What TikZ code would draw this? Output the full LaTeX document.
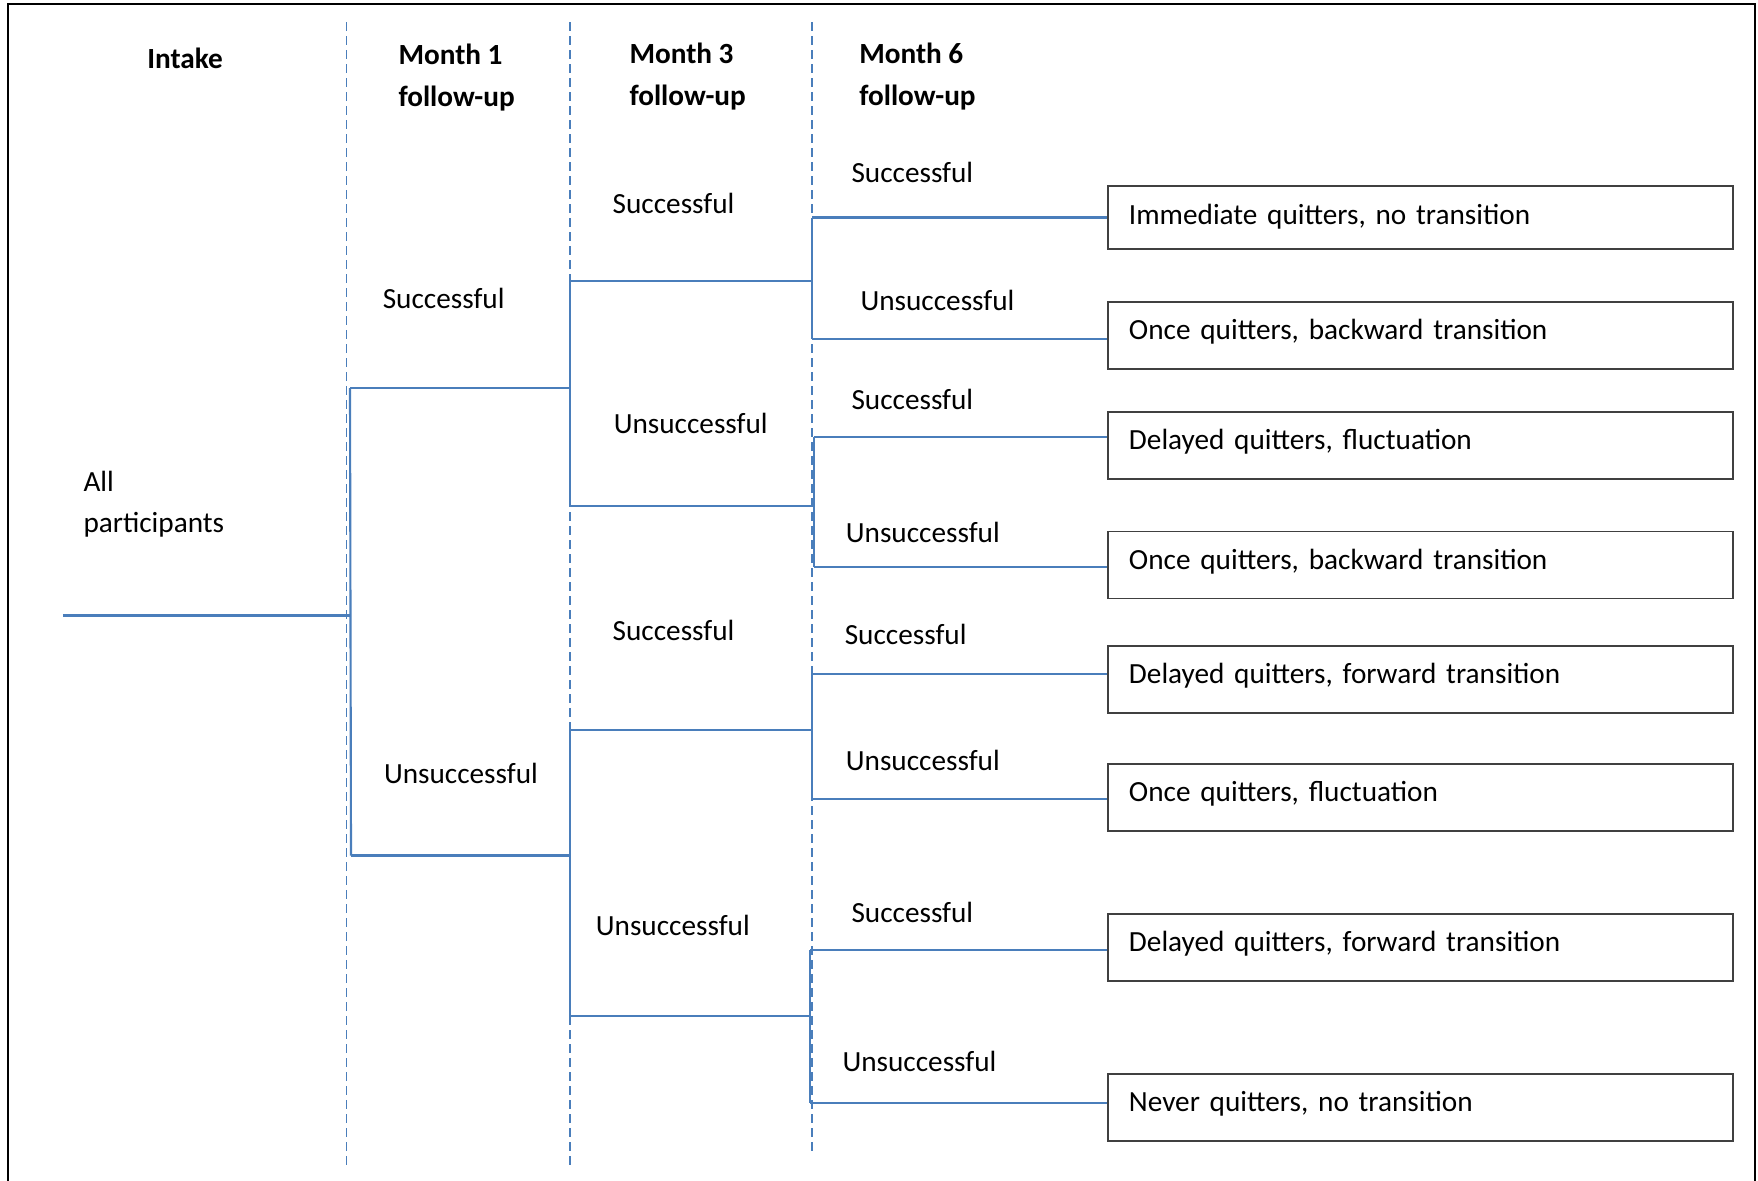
\documentclass[tikz,border=0pt]{standalone}
\usepackage{fontspec}
\setmainfont{Carlito}
\usepackage{tikz}
\usetikzlibrary{positioning}
\usetikzlibrary{calc}
\definecolor{treeblue}{HTML}{4A7EBB}
\definecolor{boxgray}{HTML}{404040}
\tikzset{
  lbl/.style = {
    anchor=west, inner sep = 0pt, align=left, font=\fontsize{11.7}{16.6}\selectfont }
}

\begin{document}
\begin{tikzpicture}[x=0.4pt,y=-0.4pt,
tree_style/.style={draw=treeblue,line width=0.85pt},
phase_style/.style={draw=treeblue,line width=0.75pt,dash pattern=on 3.4pt off 2.2pt},
box_style/.style={draw=boxgray,line width=0.7pt,minimum width=250pt,inner xsep=8.5pt,
  text width=233pt,text height=8.5pt,align=left,
  font=\fontsize{11.7}{16.6}\selectfont},
head_style/.style={lbl,font=\fontsize{11.7}{16.6}\selectfont\bfseries}]
\useasboundingbox (0,0) rectangle (1758,1180);
\draw[line width=1pt] (8,1190) |- (1755,4) -- (1755,1190);

% phase separators
\foreach \x/\y in {346.5/1166,570/1166,812/1155}{
 \draw[phase_style] (\x,22.4) -- (\x,\y);
}

% headers
\node[head_style,anchor=center] (intake) at (185,58.3) {Intake};
\node[head_style] (month1) at (398,77.5) {Month 1\\follow-up};
\node[head_style] (month3) at (629,76.4) {Month 3\\follow-up};
\node[head_style] (month6) at (858.8,76.4) {Month 6\\follow-up};
\node[lbl] (all) at (83,504) {All\\participants};

% outcome boxes
\foreach \n/\y/\h/\d/\t in {1/217.5/25.2pt/2.7pt/{Immediate quitters, no transition},
 2/335.3/26.8pt/5.3pt/{Once quitters, backward transition},
 3/445.2/26.8pt/5.3pt/{Delayed quitters, fluctuation},
 4/565.1/26.8pt/5.3pt/{Once quitters, backward transition},
 5/679.5/26.8pt/5.3pt/{Delayed quitters, forward transition},
 6/797.2/26.8pt/5.3pt/{Once quitters, fluctuation},
 7/947.5/26.8pt/5.3pt/{Delayed quitters, forward transition},
 8/1107.8/26.8pt/5.3pt/{Never quitters, no transition}}{
 \node[box_style,minimum height=\h,text depth=\d] (b\n) at (1420.2,\y) {\t};
}

% month 1
\coordinate (r0) at (62.8,615.5);
\coordinate (r1) at (350,615.5);
\coordinate (j1s) at (350,388);
\coordinate (j1u) at (351,855.5);
\coordinate (e1s) at (570,388);
\coordinate (e1u) at (570,855.5);
\draw[tree_style] (r0) -- (r1);
\draw[tree_style] (j1s) -- (j1u);
\draw[tree_style] (j1s) -- (e1s);
\draw[tree_style] (j1u) -- (e1u);
\node[lbl] (m1s) at (382.3,298.2) {Successful};
\node[lbl] (m1u) at (383.5,773.6) {Unsuccessful};

% month 3
\coordinate (j3a) at (570,281.4);
\coordinate (j3b) at (570,505.7);
\coordinate (j3c) at (570,730);
\coordinate (j3d) at (570,1015.8);
\draw[tree_style] (j3a) -- (j3b);
\draw[tree_style] (j3c) -- (j3d);
\foreach \c/\x in {a/812,b/813,c/812,d/810}{
 \draw[tree_style] (j3\c) -- (\x,0 |- j3\c);
}
\node[lbl] (m3a) at (612.2,203) {Successful};
\node[lbl] (m3b) at (613.3,423.8) {Unsuccessful};
\node[lbl] (m3c) at (612.2,630.1) {Successful};
\node[lbl] (m3d) at (595.4,925) {Unsuccessful};

% month 6
\foreach \n/\x/\y in {1/812/217.5,2/812/338.6,3/814/437.3,4/814/567.3,
 5/812/673.8,6/812/799.4,7/810/949.7,8/810/1103.3}{
 \coordinate (l\n) at (\x,\y);
 \draw[tree_style] (l\n) -- (l\n -| b\n.west);
}
\foreach \a/\b in {1/2,3/4,5/6,7/8}{
 \draw[tree_style] (l\a) -- (l\b);
}
\foreach \n/\x/\y/\t in {1/851/172.7/Successful,2/860/300.5/Unsuccessful,
 3/851/399.2/Successful,4/845.4/532.6/Unsuccessful,5/844.3/634.6/Successful,
 6/845.4/760.2/Unsuccessful,7/851/912.7/Successful,8/842/1061.8/Unsuccessful}{
 \node[lbl] (m6\n) at (\x,\y) {\t};
}
\end{tikzpicture}
\end{document}
